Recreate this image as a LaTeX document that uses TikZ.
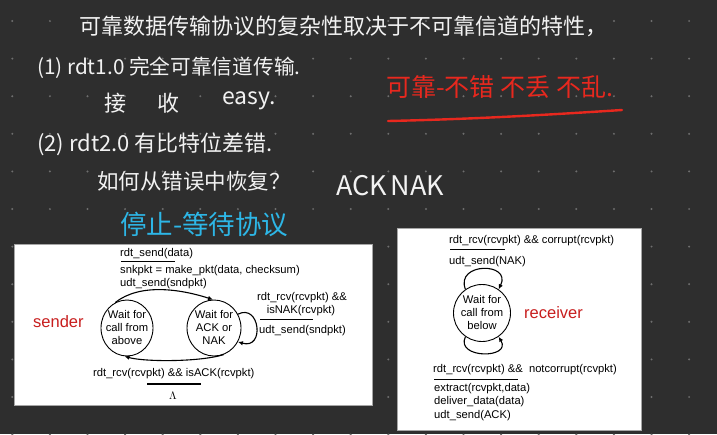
\documentclass[tikz,border=0pt]{standalone}
\usepackage{fontspec}
\setmainfont{Liberation Sans}
\newfontfamily\cjk{Noto Sans CJK SC}
\usetikzlibrary{arrows.meta,shapes.geometric}
\definecolor{bgc}{HTML}{2E2E2E}
\definecolor{dotc}{HTML}{6E6E6E}
\definecolor{inkw}{HTML}{F2F2F2}
\definecolor{inkr}{HTML}{E8281E}
\definecolor{inkb}{HTML}{2DB6E6}
\definecolor{lblr}{HTML}{C81E1E}
\tikzset{
  hw/.style={font=\cjk\fontsize{20}{22}\selectfont, text=inkw, anchor=west, inner sep=0pt},
  fsm/.style={font=\fontsize{11.2}{13}\selectfont, anchor=west, inner sep=0pt, text=black},
  fsmc/.style={font=\fontsize{11.2}{13}\selectfont, inner sep=0pt, text=black},
  state/.style={ellipse, draw, line width=0.9pt, minimum width=52pt, minimum height=56pt, inner sep=0pt},
  stxt/.style={align=center, inner sep=0pt, font=\fontsize{11.2}{13}\selectfont},
  rulel/.style={line width=1.2pt},
  arr/.style={line width=1.1pt, -{Latex[length=5pt,width=4.5pt]}},
  role/.style={font=\fontsize{16.5}{18}\selectfont, text=lblr, anchor=west, inner sep=0pt},
}
\begin{document}
\begin{tikzpicture}[x=1pt,y=-1pt]
\fill[bgc] (0,0) rectangle (717,434);
\useasboundingbox (0,0) rectangle (717,434);
% dot grid
\foreach \i in {0,...,18}
  \foreach \j in {0,...,11}
    \fill[dotc] (12.3+37.6*\i, 21+37.6*\j) circle (1.1pt);

% handwriting
\node[hw, font=\cjk\fontsize{22}{23}\selectfont] (t1) at (79,26) {可靠数据传输协议的复杂性取决于不可靠信道的特性，};
\node[hw, font=\cjk\fontsize{20.7}{22}\selectfont] (t2) at (37,68) {(1) rdt1.0 完全可靠信道传输.};
\node[hw, font=\cjk\fontsize{22}{23}\selectfont] (t3a) at (104,103) {接};
\node[hw, font=\cjk\fontsize{22}{23}\selectfont] (t3b) at (157,103) {收};
\node[hw, font=\cjk\fontsize{23}{24}\selectfont] (t3c) at (222,101) {easy.};
\node[hw, text=inkr, font=\cjk\fontsize{25}{26}\selectfont] (tr) at (386,87) {可靠-不错\hspace{6pt}不丢\hspace{6pt}不乱.};
\coordinate (ul1) at (388,121);
\coordinate (ul2) at (622,110);
\draw[inkr, line width=2.4pt, line cap=round] (ul1) .. controls (480,119) and (560,114) .. (ul2);
\node[hw, font=\cjk\fontsize{22}{23}\selectfont] (t5) at (37,144) {(2) rdt2.0 有比特位差错.};
\node[hw, font=\cjk\fontsize{21.5}{23}\selectfont] (t6) at (97,181) {如何从错误中恢复？};
\node[hw, font=\cjk\fontsize{27}{28}\selectfont] (t7) at (336,186) {ACK\hspace{4pt}NAK};
\node[hw, text=inkb, font=\cjk\fontsize{26.5}{28}\selectfont] (tb) at (120,224) {停止-等待协议};

% sender box
\fill[white, draw=gray!70, line width=0.6pt] (14,244) rectangle (372,405);
\node[fsm] (s1) at (120,254) {rdt\_send(data)};
\draw[rulel] (121,261.5) -- (175,261.5);
\node[fsm] (s2) at (120,270.5) {snkpkt = make\_pkt(data, checksum)};
\node[fsm] (s3) at (120,283.5) {udt\_send(sndpkt)};
\node[role] (snd) at (33,322) {sender};
\node[state] (A) at (127,328) {};
\node[stxt] (At) at (127,327) {Wait for\\call from\\above};
\node[state, minimum width=54pt] (B) at (214,328) {};
\node[stxt] (Bt) at (214,327) {Wait for\\ACK or\\NAK};
\draw[arr] (A.115) .. controls (140,283) and (180,289) .. (B.92);
\draw[arr] (B.290) .. controls (200,362) and (145,362) .. (A.265);
\draw[arr] (B.30) .. controls (260,303) and (265,350) .. (B.-30);
\node[fsmc] (s4) at (302,298) {rdt\_rcv(rcvpkt) \&\&};
\node[fsmc] (s5) at (301,310.5) {isNAK(rcvpkt)};
\draw[rulel] (260,319.5) -- (313,319.5);
\node[fsm] (s6) at (259,330.5) {udt\_send(sndpkt)};
\node[fsm] (s7) at (93,374) {rdt\_rcv(rcvpkt) \&\& isACK(rcvpkt)};
\draw[rulel] (147,384) -- (201,384);
\node[fsmc] (s8) at (173,396) {$\Lambda$};

% receiver box
\fill[white, draw=gray!70, line width=0.6pt] (397,228) rectangle (641,430);
\node[fsm] (r1) at (449,241) {rdt\_rcv(rcvpkt) \&\& corrupt(rcvpkt)};
\draw[rulel] (450,249.5) -- (505,249.5);
\node[fsm] (r2) at (449,262) {udt\_send(NAK)};
\node[state, minimum width=57pt, minimum height=57pt] (C) at (482,313) {};
\node[stxt] (Ct) at (482,312) {Wait for\\call from\\below};
\draw[arr] (C.125) .. controls (455,262) and (512,262) .. (C.55);
\draw[arr] (C.235) .. controls (455,359) and (512,359) .. (C.305);
\node[role] (rcv) at (524,313) {receiver};
\node[fsm] (r3) at (433,370) {rdt\_rcv(rcvpkt) \&\&\ \ notcorrupt(rcvpkt)};
\draw[rulel] (434,379.5) -- (518,379.5);
\node[fsm] (r4) at (434,389) {extract(rcvpkt,data)};
\node[fsm] (r5) at (434,402) {deliver\_data(data)};
\node[fsm] (r6) at (434,415.5) {udt\_send(ACK)};
\end{tikzpicture}
\end{document}
